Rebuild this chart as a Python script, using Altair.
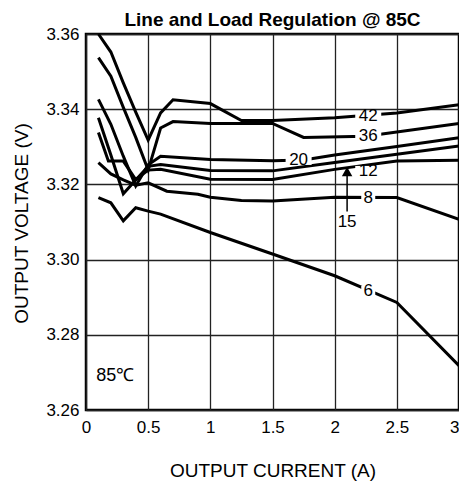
import altair as alt
import pandas as pd

FONT = "Liberation Sans"

# ---- curve data (output current A, output voltage V) per input voltage ----
x42 = [0.1, 0.2, 0.3, 0.4, 0.5, 0.6, 0.7, 1.0, 1.25, 1.5, 2.0, 2.5, 3.0]
y42 = [3.3600, 3.3552, 3.3470, 3.3392, 3.3318, 3.3390, 3.3425, 3.3415, 3.3370, 3.3370, 3.3377, 3.3390, 3.3412]

x36 = [0.1, 0.2, 0.3, 0.4, 0.5, 0.6, 0.7, 1.0, 1.5, 1.75, 2.25, 3.0]
y36 = [3.3537, 3.3488, 3.3405, 3.3325, 3.3238, 3.3350, 3.3367, 3.3362, 3.3362, 3.3325, 3.3328, 3.3362]

x20 = [0.1, 0.2, 0.3, 0.4, 0.5, 0.6, 1.0, 1.5, 1.75, 2.0, 2.5, 3.0]
y20 = [3.3426, 3.3360, 3.3275, 3.3196, 3.3252, 3.3275, 3.3266, 3.3263, 3.3265, 3.3278, 3.3301, 3.3324]

x15 = [0.1, 0.2, 0.3, 0.4, 0.5, 0.6, 1.0, 1.5, 2.0, 2.5, 3.0]
y15 = [3.3377, 3.3278, 3.3175, 3.3212, 3.3248, 3.3253, 3.3237, 3.3236, 3.3258, 3.3280, 3.3302]

x12 = [0.1, 0.18, 0.3, 0.4, 0.5, 0.6, 1.0, 1.5, 2.0, 2.5, 3.0]
y12 = [3.3338, 3.3262, 3.3262, 3.3213, 3.3238, 3.3240, 3.3214, 3.3213, 3.3240, 3.3262, 3.3264]

x8 = [0.1, 0.2, 0.3, 0.4, 0.5, 0.65, 0.9, 1.0, 1.25, 1.5, 2.0, 2.5, 3.0]
y8 = [3.3258, 3.3228, 3.3212, 3.3198, 3.3204, 3.3182, 3.3174, 3.3166, 3.3157, 3.3156, 3.3166, 3.3165, 3.3107]

x6 = [0.1, 0.2, 0.3, 0.4, 0.5, 0.6, 1.0, 1.5, 2.0, 2.5, 3.0]
y6 = [3.3165, 3.3151, 3.3103, 3.3138, 3.3129, 3.3121, 3.3072, 3.3015, 3.2957, 3.2886, 3.2718]

series = {"42": (x42, y42), "36": (x36, y36), "20": (x20, y20), "15": (x15, y15),
          "12": (x12, y12), "8": (x8, y8), "6": (x6, y6)}

# inline curve labels
label_text = ["42", "36", "20", "12", "8", "6"]
label_x = [2.27, 2.27, 1.71, 2.27, 2.27, 2.27]
label_y = [3.3382, 3.3330, 3.3265, 3.3236, 3.3165, 3.2917]

# "15" arrow annotation
arrow_label = ["15"]
arrow_x = [2.1]
arrow_text_y = [3.3099]
arrow_from_y = [3.3128]
arrow_to_y = [3.3234]

temp_text = ["85\u2103"]
temp_x = [0.236]
temp_y = [3.2691]

x_ticks = [0, 0.5, 1, 1.5, 2, 2.5, 3]
y_ticks = [3.26, 3.28, 3.30, 3.32, 3.34, 3.36]

rows = []
for name, (xs_, ys_) in series.items():
    for i, (a, b) in enumerate(zip(xs_, ys_)):
        rows.append({"series": name, "x": a, "y": b, "order": i})
df = pd.DataFrame(rows)

labels = pd.DataFrame({"text": label_text, "x": label_x, "y": label_y})
labels["wide"] = labels["text"].str.len() > 1
arrow_df = pd.DataFrame({"text": arrow_label, "x": arrow_x, "ty": arrow_text_y,
                         "y0": arrow_from_y, "y1": arrow_to_y})
temp_df = pd.DataFrame({"text": temp_text, "x": temp_x, "y": temp_y})

xs = alt.Scale(domain=[0, 3], nice=False)
ys = alt.Scale(domain=[3.26, 3.36], nice=False, zero=False)

X = alt.X("x:Q", scale=xs, axis=alt.Axis(
    values=x_ticks, format="~g", grid=True, ticks=False, domain=False,
    labelAlign={"condition": {"test": "datum.value == 3", "value": "right"}, "value": "center"},
    labelPadding=9, title="OUTPUT CURRENT (A)", titleY=60, titleBaseline="middle"))
Y = alt.Y("y:Q", scale=ys, axis=alt.Axis(
    values=y_ticks, format=".2f", grid=True, ticks=False, domain=False,
    labelPadding=7, title="OUTPUT VOLTAGE (V)", titleX=-65, titleY=189,
    titleAngle=-90, titleBaseline="middle"))

lines = alt.Chart(df).mark_line(color="black", strokeWidth=3).encode(
    x=X, y=Y, detail="series:N", order="order:Q")

box_wide = alt.Chart(labels[labels["wide"]]).mark_point(
    shape="M-1,-0.38H1V0.38H-1Z", filled=True, color="white", opacity=1, size=676
).encode(x=alt.X("x:Q", scale=xs), y=alt.Y("y:Q", scale=ys))
box_narrow = alt.Chart(labels[~labels["wide"]]).mark_point(
    shape="M-1,-0.7H1V0.7H-1Z", filled=True, color="white", opacity=1, size=196
).encode(x=alt.X("x:Q", scale=xs), y=alt.Y("y:Q", scale=ys))

label_marks = alt.Chart(labels).mark_text(
    font=FONT, fontSize=17, color="black", baseline="middle", align="center"
).encode(x=alt.X("x:Q", scale=xs), y=alt.Y("y:Q", scale=ys), text="text:N")

arrow_rule = alt.Chart(arrow_df).mark_rule(color="black", strokeWidth=1.5).encode(
    x=alt.X("x:Q", scale=xs), y=alt.Y("y0:Q", scale=ys), y2="y1:Q")
arrow_head = alt.Chart(arrow_df).mark_point(
    shape="triangle-up", filled=True, color="black", opacity=1, size=110
).encode(x=alt.X("x:Q", scale=xs), y=alt.Y("y1:Q", scale=ys))
arrow_text = alt.Chart(arrow_df).mark_text(
    font=FONT, fontSize=17, color="black", baseline="middle", align="center"
).encode(x=alt.X("x:Q", scale=xs), y=alt.Y("ty:Q", scale=ys), text="text:N")

temp_mark = alt.Chart(temp_df).mark_text(
    font=FONT, fontSize=18, color="black", baseline="middle", align="center"
).encode(x=alt.X("x:Q", scale=xs), y=alt.Y("y:Q", scale=ys), text="text:N")

chart = alt.layer(
    lines, box_wide, box_narrow, label_marks, arrow_rule, arrow_head, arrow_text, temp_mark
).properties(
    width=373, height=376,
    title=alt.Title("Line and Load Regulation @ 85C", font=FONT, fontSize=19,
                    fontWeight="bold", color="black", anchor="middle", offset=9, dy=14),
    autosize=alt.AutoSizeParams(type="none"),
    padding={"left": 78, "top": 26, "right": 0, "bottom": 71},
).configure_view(
    stroke="black", strokeWidth=2.5
).configure_axis(
    labelFont=FONT, labelFontSize=17, labelColor="black",
    titleFont=FONT, titleFontSize=19, titleColor="black", titleFontWeight="normal",
    gridColor="#222222", gridWidth=1.3, gridOpacity=1
)

chart.save("out.html", embed_options={"renderer": "svg", "actions": False})
